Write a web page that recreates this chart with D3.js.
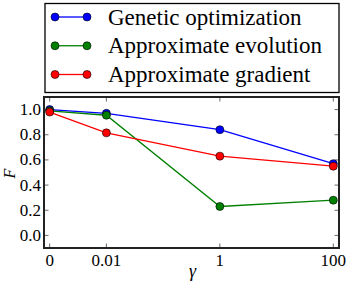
<!DOCTYPE html>
<html>
<head>
<meta charset="utf-8">
<script src="https://cdn.jsdelivr.net/npm/d3@7"></script>
</head>
<body style="margin:0">
<script>
// gamma values; 0 is drawn one decade left of 0.01 on the log axis
const gammas = [0, 0.01, 1, 100];
const gammaLabels = ["0", "0.01", "1", "100"];
const yTicks = [0.0, 0.2, 0.4, 0.6, 0.8, 1.0];

const seriesNames = ["Genetic optimization", "Approximate evolution", "Approximate gradient"];
const seriesColors = ["#0000ff", "#008000", "#ff0000"];
const geneticF = [1.0, 0.97, 0.84, 0.57];
const evolutionF = [0.99, 0.955, 0.23, 0.28];
const gradientF = [0.98, 0.815, 0.63, 0.55];
const seriesValues = [geneticF, evolutionF, gradientF];

const W = 347, H = 284;
const plot = { left: 44, right: 339, top: 97, bottom: 248 };
const fontName = "'Liberation Serif'";

const svg = d3.select("body").append("svg")
    .attr("width", W)
    .attr("height", H);

const x = d3.scaleLog()
    .domain([Math.pow(10, -3.1), Math.pow(10, 2.1)])
    .range([plot.left, plot.right]);
const xPos = g => x(g === 0 ? 1e-3 : g);

const y = d3.scaleLinear()
    .domain([-0.1, 1.1])
    .range([plot.bottom, plot.top]);

// ticks (inward, on all four sides)
const tickLen = 4.5;
const ticks = svg.append("g")
    .attr("stroke", "#444")
    .attr("stroke-width", 0.8);
gammas.forEach(g => {
    const px = xPos(g);
    ticks.append("line").attr("x1", px).attr("x2", px)
        .attr("y1", plot.bottom).attr("y2", plot.bottom - tickLen);
    ticks.append("line").attr("x1", px).attr("x2", px)
        .attr("y1", plot.top).attr("y2", plot.top + tickLen);
});
yTicks.forEach(v => {
    const py = y(v);
    ticks.append("line").attr("x1", plot.left).attr("x2", plot.left + tickLen)
        .attr("y1", py).attr("y2", py);
    ticks.append("line").attr("x1", plot.right).attr("x2", plot.right - tickLen)
        .attr("y1", py).attr("y2", py);
});

// tick labels
svg.selectAll("text.xtick")
    .data(gammas)
    .join("text")
    .attr("class", "xtick")
    .style("font-family", fontName)
    .attr("font-size", 17)
    .attr("x", d => xPos(d))
    .attr("y", plot.bottom + 18)
    .attr("text-anchor", "middle")
    .text((d, i) => gammaLabels[i]);

svg.selectAll("text.ytick")
    .data(yTicks)
    .join("text")
    .attr("class", "ytick")
    .style("font-family", fontName)
    .attr("font-size", 17)
    .attr("x", plot.left - 3)
    .attr("y", d => y(d) + 5.5)
    .attr("text-anchor", "end")
    .text(d => d.toFixed(1));

// axis labels
svg.append("text")
    .style("font-family", fontName)
    .attr("font-size", 16)
    .attr("font-style", "italic")
    .attr("transform", `translate(15,${(plot.top + plot.bottom) / 2 + 1}) rotate(-90)`)
    .attr("text-anchor", "middle")
    .text("F");

svg.append("text")
    .style("font-family", fontName)
    .attr("font-size", 18)
    .attr("font-style", "italic")
    .attr("x", (plot.left + plot.right) / 2 + 1)
    .attr("y", 277)
    .attr("text-anchor", "middle")
    .text("γ");

// series
const line = d3.line()
    .x((d, i) => xPos(gammas[i]))
    .y(d => y(d));

seriesValues.forEach((vals, s) => {
    const g = svg.append("g");
    g.append("path")
        .datum(vals)
        .attr("d", line)
        .attr("fill", "none")
        .attr("stroke", seriesColors[s])
        .attr("stroke-width", 1.3);
    g.selectAll("circle")
        .data(vals)
        .join("circle")
        .attr("cx", (d, i) => xPos(gammas[i]))
        .attr("cy", d => y(d))
        .attr("r", 4)
        .attr("fill", seriesColors[s])
        .attr("stroke", "#000")
        .attr("stroke-width", 0.6);
});

// axes frame
svg.append("rect")
    .attr("x", plot.left)
    .attr("y", plot.top)
    .attr("width", plot.right - plot.left)
    .attr("height", plot.bottom - plot.top)
    .attr("fill", "none")
    .attr("stroke", "#222")
    .attr("stroke-width", 2);

// legend
svg.append("rect")
    .attr("x", 45).attr("y", 3.5)
    .attr("width", 294).attr("height", 89)
    .attr("fill", "#fff")
    .attr("stroke", "#000")
    .attr("stroke-width", 1.3);

const rowY = d3.scalePoint()
    .domain(seriesNames)
    .range([17, 74.5]);

seriesNames.forEach((name, s) => {
    const ry = rowY(name);
    svg.append("line")
        .attr("x1", 55).attr("x2", 87)
        .attr("y1", ry).attr("y2", ry)
        .attr("stroke", seriesColors[s])
        .attr("stroke-width", 1.3);
    [55, 87].forEach(cx => svg.append("circle")
        .attr("cx", cx).attr("cy", ry).attr("r", 4)
        .attr("fill", seriesColors[s])
        .attr("stroke", "#000")
        .attr("stroke-width", 0.6));
    svg.append("text")
        .style("font-family", fontName)
        .attr("font-size", 23)
        .attr("x", 108)
        .attr("y", ry + 7.5)
        .text(name);
});
</script>
</body>
</html>
